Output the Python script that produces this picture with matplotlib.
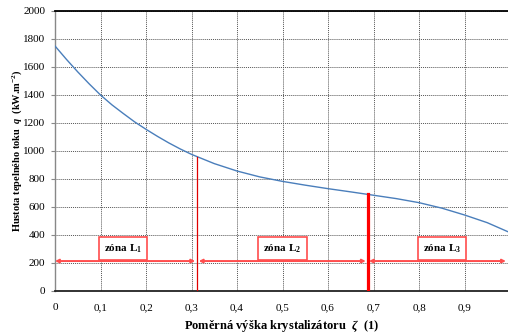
import matplotlib
matplotlib.use('Agg')
import matplotlib.pyplot as plt

# hodnoty
zeta = [0.0, 0.025, 0.05, 0.075, 0.10, 0.125, 0.15, 0.175, 0.20, 0.225, 0.25,
        0.275, 0.30, 0.35, 0.40, 0.45, 0.50, 0.55, 0.60, 0.65, 0.70, 0.75,
        0.80, 0.85, 0.90, 0.95, 0.995]
q = [1750, 1655, 1565, 1480, 1400, 1330, 1268, 1208, 1155, 1105, 1058,
     1015, 976, 910, 857, 815, 783, 756, 731, 708, 684, 660,
     631, 592, 543, 488, 424]

# hranice zón
hranice = [0.0, 0.312, 0.687, 0.995]
q_hranice = [955, 690]
zony = ['zóna L$_{\\mathrm{1}}$', 'zóna L$_{\\mathrm{2}}$', 'zóna L$_{\\mathrm{3}}$']
stred_zon = [0.15, 0.50, 0.85]
y_sipky = 214
y_popisu = 303

xticks = [0, 0.1, 0.2, 0.3, 0.4, 0.5, 0.6, 0.7, 0.8, 0.9]
xlabels = ['0', '0,1', '0,2', '0,3', '0,4', '0,5', '0,6', '0,7', '0,8', '0,9']
yticks = list(range(0, 2001, 200))

plt.rcParams['font.family'] = ['Liberation Serif', 'DejaVu Serif']
plt.rcParams['mathtext.fontset'] = 'custom'
plt.rcParams['mathtext.rm'] = 'Liberation Serif:bold'
plt.rcParams['mathtext.it'] = 'Liberation Serif:italic:bold'
plt.rcParams['mathtext.bf'] = 'Liberation Serif:bold'

fig = plt.figure(figsize=(5.08, 3.33), dpi=100)
ax = fig.add_axes([55 / 508, 42 / 333, 453 / 508, 280 / 333])

ax.set_xlim(0, 0.9956)
ax.set_ylim(0, 2000)

# mřížka
ax.grid(True, linestyle=(0, (1, 1)), color='#555555', linewidth=0.7)
ax.set_axisbelow(True)

ax.spines['right'].set_visible(False)
ax.spines['top'].set_color('black')
ax.spines['top'].set_linewidth(1.3)
ax.spines['bottom'].set_color('#222222')
ax.spines['bottom'].set_linewidth(1.3)
ax.spines['left'].set_color('#888888')
ax.spines['left'].set_linewidth(1.0)

ax.set_xticks(xticks)
ax.set_xticklabels(xlabels)
ax.set_yticks(yticks)
ax.tick_params(axis='x', length=0, pad=9, labelsize=8)
ax.tick_params(axis='y', length=3, pad=4, labelsize=8, color='#888888')

# křivka
ax.plot(zeta, q, color='#4a7ebb', linewidth=1.0, zorder=3)

# svislé čáry hranic
ax.plot([hranice[1], hranice[1]], [0, q_hranice[0]], color='#e00000', linewidth=0.9, zorder=4)
ax.plot([hranice[2], hranice[2]], [0, q_hranice[1]], color='#ff0000', linewidth=2.3, zorder=4)

# šipky a popisy zón
mezera = [0.0, 0.004, 0.003]
for i in range(3):
    x0 = hranice[i] + mezera[i]
    x1 = hranice[i + 1] - 0.004
    ax.annotate('', xy=(x0, y_sipky), xytext=(x1, y_sipky),
                arrowprops=dict(arrowstyle='<|-|>', color='#ff4d4d', linewidth=1.4,
                                mutation_scale=5, shrinkA=0, shrinkB=0), zorder=5)
    ax.text(stred_zon[i], y_popisu, zony[i], ha='center', va='center',
            fontsize=8, fontweight='bold', zorder=6,
            bbox=dict(boxstyle='square,pad=0.45', facecolor='white',
                      edgecolor='#ff4d4d', linewidth=1.2))

ax.set_xlabel('Poměrná výška krystalizátoru  $\\zeta$  (1)', fontsize=9,
              fontweight='bold', labelpad=4)
ax.set_ylabel('Hustota tepelného toku  $q$  (kW.m$^{-2}$)',
              fontsize=7.5, fontweight='bold', labelpad=-1)

fig.savefig('out.png', dpi=100)
